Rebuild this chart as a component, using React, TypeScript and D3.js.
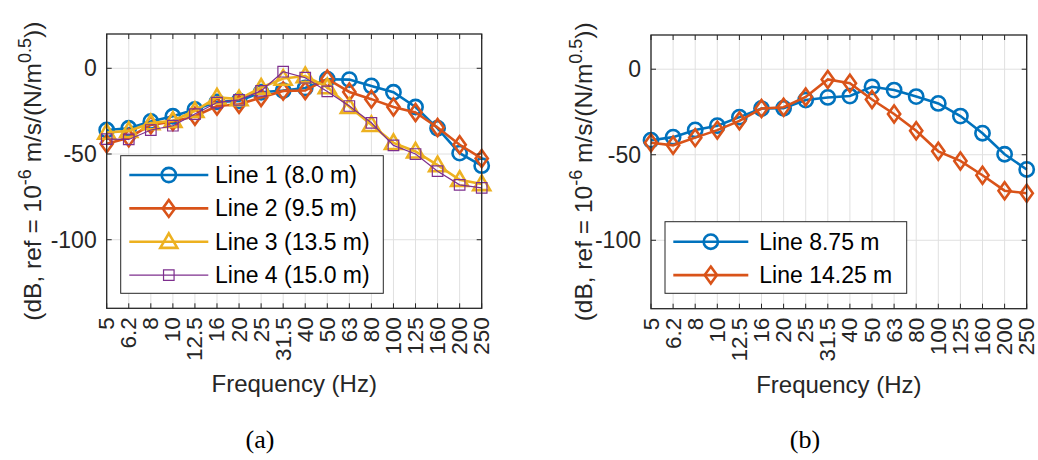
import React, { useEffect, useRef } from "react";
import * as d3 from "d3";

// frequency bands (1/3 octave), shared by both panels
const freqLabels = ["5", "6.2", "8", "10", "12.5", "16", "20", "25", "31.5", "40", "50", "63", "80", "100", "125", "160", "200", "250"];
const yTicks = [0, -50, -100];

// panel (a)
const line1 = [-36, -35, -31, -28, -24, -19.6, -19, -14, -13, -11.5, -6.4, -6.6, -10.3, -14, -22.6, -35, -49.5, -56.8];
const line2 = [-44, -40.5, -33, -31, -28, -22, -21, -17, -13.2, -13, -6.2, -13.8, -18, -22.6, -25.8, -34.5, -44.6, -52.6];
const line3 = [-37.5, -36.5, -32, -30.6, -24.8, -17, -18, -11.2, -6, -4.5, -11, -22.5, -33, -43.5, -48.5, -56.5, -65, -67.5];
const line4 = [-41.3, -41.5, -36, -33.5, -26.7, -20, -18.4, -13.2, -2, -5.5, -13.5, -22, -31.8, -45, -50, -60, -68, -69.8];
const namesA = ["Line 1 (8.0 m)", "Line 2 (9.5 m)", "Line 3 (13.5 m)", "Line 4 (15.0 m)"];

// panel (b)
const lineNear = [-41.5, -39.7, -35.5, -33, -28, -23, -22.8, -18, -16.5, -15.7, -10.3, -12.2, -16, -20, -27.4, -37.4, -49.7, -58.6];
const lineFar = [-43, -44.5, -40, -35.6, -30.2, -23, -22.2, -16.2, -6, -8.2, -17.7, -26.2, -36, -48, -53.6, -62, -71, -72.5];
const namesB = ["Line 8.75 m", "Line 14.25 m"];

const AX = "#262626";
const FONT = "'Liberation Sans', Arial, Helvetica, sans-serif";

const styles = [
  { color: "#0072BD", marker: "circle", width: 2.6 },
  { color: "#D95319", marker: "diamond", width: 2.6 },
  { color: "#EDB120", marker: "triangle", width: 2.6 },
  { color: "#7E2F8E", marker: "square", width: 1.2 },
];

const markerPath = (type, s) => {
  if (type === "circle") return d3.symbol(d3.symbolCircle, 160)();
  if (type === "diamond") return `M0,${-s}L${s * 0.72},0L0,${s}L${-s * 0.72},0Z`;
  if (type === "triangle") return `M0,${-s}L${s},${s * 0.72}L${-s},${s * 0.72}Z`;
  return `M${-s * 0.62},${-s * 0.62}H${s * 0.62}V${s * 0.62}H${-s * 0.62}Z`;
};

const drawPanel = (svg, cfg) => {
  const { left, right, top, bottom, series, names, legend, label, labelX, yLabelX } = cfg;
  const g = svg.append("g");

  const x = d3.scalePoint().domain(freqLabels).range([left, right]);
  const y = d3.scaleLinear().domain([-140, 20]).range([bottom, top]);

  // grid
  g.selectAll(".gx").data(freqLabels).join("line")
    .attr("x1", d => x(d)).attr("x2", d => x(d)).attr("y1", top).attr("y2", bottom)
    .attr("stroke", "#e0e0e0").attr("stroke-width", 1);
  g.selectAll(".gy").data(yTicks).join("line")
    .attr("x1", left).attr("x2", right).attr("y1", d => y(d)).attr("y2", d => y(d))
    .attr("stroke", "#e0e0e0").attr("stroke-width", 1);

  // series
  series.forEach((vals, k) => {
    const st = styles[k];
    const line = d3.line().x((d, i) => x(freqLabels[i])).y(d => y(d));
    g.append("path").datum(vals).attr("d", line)
      .attr("fill", "none").attr("stroke", st.color).attr("stroke-width", st.width);
    g.selectAll(null).data(vals).join("path")
      .attr("transform", (d, i) => `translate(${x(freqLabels[i])},${y(d)})`)
      .attr("d", markerPath(st.marker, 8.5))
      .attr("fill", "none").attr("stroke", st.color).attr("stroke-width", st.width);
  });

  // frame and ticks
  g.append("rect").attr("x", left).attr("y", top).attr("width", right - left).attr("height", bottom - top)
    .attr("fill", "none").attr("stroke", AX).attr("stroke-width", 1.3);
  const tl = 5;
  freqLabels.forEach(f => {
    g.append("line").attr("x1", x(f)).attr("x2", x(f)).attr("y1", bottom).attr("y2", bottom - tl).attr("stroke", AX);
    g.append("line").attr("x1", x(f)).attr("x2", x(f)).attr("y1", top).attr("y2", top + tl).attr("stroke", AX);
    g.append("text")
      .attr("transform", `translate(${x(f)},${bottom + 9}) rotate(-90)`)
      .attr("text-anchor", "end").attr("dominant-baseline", "central")
      .attr("font-size", 22.5).attr("fill", AX).text(f);
  });
  yTicks.forEach(t => {
    g.append("line").attr("x1", left).attr("x2", left + tl).attr("y1", y(t)).attr("y2", y(t)).attr("stroke", AX);
    g.append("line").attr("x1", right).attr("x2", right - tl).attr("y1", y(t)).attr("y2", y(t)).attr("stroke", AX);
    g.append("text").attr("x", left - 10).attr("y", y(t)).attr("text-anchor", "end")
      .attr("dominant-baseline", "central").attr("font-size", 23).attr("fill", AX).text(t === 0 ? "0" : `-${-t}`);
  });

  // axis labels
  g.append("text").attr("x", (left + right) / 2).attr("y", bottom + 84).attr("text-anchor", "middle")
    .attr("font-size", 24).attr("fill", AX).text("Frequency (Hz)");
  const yl = g.append("text")
    .attr("transform", `translate(${yLabelX},${(top + bottom) / 2}) rotate(-90)`)
    .attr("text-anchor", "middle").attr("font-size", 24.5).attr("fill", AX);
  yl.append("tspan").text("(dB, ref = 10");
  yl.append("tspan").attr("dy", -10).attr("font-size", 18).text("-6");
  yl.append("tspan").attr("dy", 10).text(" m/s/(N/m");
  yl.append("tspan").attr("dy", -10).attr("font-size", 18).text("0.5");
  yl.append("tspan").attr("dy", 10).text("))");

  // legend
  const lg = g.append("g");
  lg.append("rect").attr("x", legend.x).attr("y", legend.y).attr("width", legend.w).attr("height", legend.h)
    .attr("fill", "white").attr("stroke", AX).attr("stroke-width", 1);
  names.forEach((n, k) => {
    const st = styles[k];
    const ry = legend.row0 + k * 33.4;
    lg.append("line").attr("x1", legend.lx1).attr("x2", legend.lx2).attr("y1", ry).attr("y2", ry)
      .attr("stroke", st.color).attr("stroke-width", st.width);
    lg.append("path").attr("transform", `translate(${(legend.lx1 + legend.lx2) / 2},${ry})`)
      .attr("d", markerPath(st.marker, 8.5)).attr("fill", "none")
      .attr("stroke", st.color).attr("stroke-width", st.width);
    lg.append("text").attr("x", legend.tx).attr("y", ry).attr("dominant-baseline", "central")
      .attr("font-size", 23).attr("fill", "#000").text(n);
  });

  // panel caption
  g.append("text").attr("x", labelX).attr("y", 448).attr("text-anchor", "middle")
    .attr("font-family", "'Liberation Serif', 'Times New Roman', serif")
    .attr("font-size", 26).attr("fill", "#000").text(label);
};

const App = () => {
  const svgRef = useRef(null);

  useEffect(() => {
    const svg = d3.select(svgRef.current);
    svg.selectAll("*").remove();
    svg.append("rect").attr("width", 1038).attr("height", 460).attr("fill", "white");

    drawPanel(svg, {
      left: 106.7, right: 481.7, top: 34, bottom: 308.3,
      series: [line1, line2, line3, line4], names: namesA,
      legend: { x: 120.7, y: 155.7, w: 262.6, h: 137.6, row0: 175, lx1: 129.3, lx2: 208.3, tx: 215 },
      label: "(a)", labelX: 260, yLabelX: 41,
    });
    drawPanel(svg, {
      left: 651, right: 1026.7, top: 35, bottom: 308.7,
      series: [lineNear, lineFar], names: namesB,
      legend: { x: 665, y: 221.7, w: 241.7, h: 71.6, row0: 241.7, lx1: 673.3, lx2: 748.3, tx: 759.3 },
      label: "(b)", labelX: 805, yLabelX: 592,
    });
  }, []);

  return (
    <svg ref={svgRef} width={1038} height={460} fontFamily={FONT}
      style={{ position: "absolute", left: 0, top: 0 }} />
  );
};

export default App;
